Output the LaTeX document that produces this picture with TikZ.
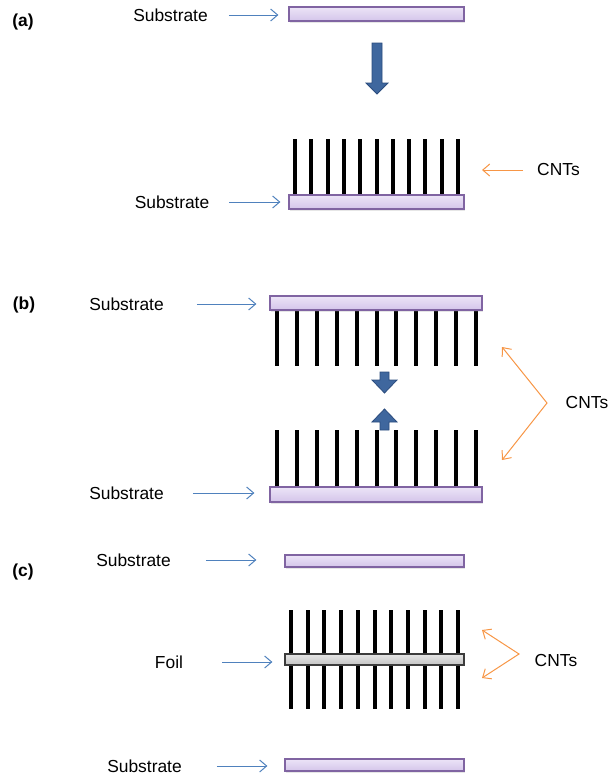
\documentclass[tikz,border=0pt]{standalone}
\usepackage{fontspec}
\setmainfont{Liberation Sans}
\usetikzlibrary{arrows.meta,shadows}

\definecolor{subedge}{HTML}{8064A2}
\definecolor{subtop}{HTML}{ECE4F7}
\definecolor{subbot}{HTML}{D4C5EA}
\definecolor{foiledge}{HTML}{3C3C3C}
\definecolor{foiltop}{HTML}{E6E6E6}
\definecolor{foilbot}{HTML}{C4C4C4}
\definecolor{pointblue}{HTML}{4F81BD}
\definecolor{pointorange}{HTML}{F79646}
\definecolor{blockblue}{HTML}{3F679E}
\definecolor{blockedge}{HTML}{2B4C7E}

\tikzset{
  substrate/.style={draw=subedge, line width=1.2pt, top color=subtop, bottom color=subbot,
    inner sep=0pt, drop shadow={shadow xshift=0.6pt, shadow yshift=-1.8pt, opacity=0.2}},
  foilbar/.style={draw=foiledge, line width=1.2pt, top color=foiltop, bottom color=foilbot, inner sep=0pt},
  tube/.style={line width=4pt, black},
  caption/.style={font=\fontsize{17.4}{20}\selectfont, inner sep=0pt},
  panel/.style={font=\fontsize{17.4}{20}\selectfont\bfseries, inner sep=0pt},
  bluepointer/.style={draw=pointblue, line width=1pt, -{Straight Barb[length=7pt,width=12pt]}},
  orangepointer/.style={draw=pointorange, line width=1pt},
  barb/.tip={Straight Barb[length=7pt,width=12pt]},
  blockarrow/.style={fill=blockblue, draw=blockedge, line width=0.8pt, line join=miter},
}

\begin{document}
\begin{tikzpicture}[x=1pt, y=-1pt]
\useasboundingbox (0,0) rectangle (610,780);

% panel letters
\node[panel] (pa) at (23,22) {(a)};
\node[panel] (pb) at (24,305) {(b)};
\node[panel] (pc) at (23,572) {(c)};

% ---------- (a) growth on a substrate ----------
\node[substrate, minimum width=175pt, minimum height=14pt] (sa1) at (376.5,14) {};
\node[caption] (la1) at (170.5,15) {Substrate};
\draw[bluepointer, shorten <=21pt, shorten >=10pt] (la1.east) -- (la1.east -| sa1.west);

\draw[blockarrow] (372,43) -- (382,43) -- (382,83) -- (388,83) -- (377,94)
  -- (366,83) -- (372,83) -- cycle;

\foreach \i in {0,...,10}
  \draw[tube] ({295+16.3*\i},139) -- ({295+16.3*\i},200);
\node[substrate, minimum width=175pt, minimum height=14pt] (sa2) at (376.5,202) {};
\node[caption] (la2) at (172,202) {Substrate};
\draw[bluepointer, shorten <=20pt, shorten >=8pt] (la2.east) -- (la2.east -| sa2.west);

\node[caption] (lna) at (558.5,170) {CNTs};
\coordinate (ta) at (482,170);
\draw[orangepointer, -barb, shorten <=14pt] (lna.west) -- (ta);

% ---------- (b) two arrays pressed together ----------
\foreach \i in {0,...,10}
  \draw[tube] ({277+19.9*\i},305) -- ({277+19.9*\i},366);
\node[substrate, minimum width=212pt, minimum height=14pt] (sb1) at (376,303) {};
\node[caption] (lb1) at (126.5,304) {Substrate};
\draw[bluepointer, shorten <=33pt, shorten >=13pt] (lb1.east) -- (lb1.east -| sb1.west);

\draw[blockarrow] (380,372) -- (389,372) -- (389,380) -- (397,380) -- (384.5,393)
  -- (372,380) -- (380,380) -- cycle;
\draw[blockarrow] (380,430) -- (389,430) -- (389,422) -- (397,422) -- (384.5,409)
  -- (372,422) -- (380,422) -- cycle;

\foreach \i in {0,...,10}
  \draw[tube] ({277+19.9*\i},430) -- ({277+19.9*\i},492);
\node[substrate, minimum width=212pt, minimum height=15pt] (sb2) at (376,494.5) {};
\node[caption] (lb2) at (126.5,493) {Substrate};
\draw[bluepointer, shorten <=29pt, shorten >=15pt] (lb2.east) -- (lb2.east -| sb2.west);

\node[caption] (lnb) at (587,403) {CNTs};
\coordinate (vb) at (547,403);
\coordinate (tb1) at (502,347);
\coordinate (tb2) at (502,460);
\draw[orangepointer, barb-barb] (tb1) -- (vb) -- (tb2);

% ---------- (c) double-sided array on a foil ----------
\node[substrate, minimum width=179pt, minimum height=12pt] (sc1) at (374.5,561) {};
\node[caption] (lc1) at (133.5,560) {Substrate};
\draw[bluepointer, shorten <=35pt, shorten >=28pt] (lc1.east) -- (lc1.east -| sc1.west);

\foreach \i in {0,...,10}
  \draw[tube] ({291+16.7*\i},610) -- ({291+16.7*\i},709);
\node[foilbar, minimum width=179pt, minimum height=11pt] (foil) at (374.5,659.5) {};
\node[caption] (lf) at (169,662) {Foil};
\draw[bluepointer, shorten <=39pt, shorten >=12pt] (lf.east) -- (lf.east -| foil.west);

\node[caption] (lnc) at (556,661) {CNTs};
\coordinate (vc) at (519,654);
\coordinate (tc1) at (482,630);
\coordinate (tc2) at (482,678);
\draw[orangepointer, barb-barb] (tc1) -- (vc) -- (tc2);

\node[substrate, minimum width=179pt, minimum height=12pt] (sc2) at (374.5,765) {};
\node[caption] (lc2) at (144.5,766) {Substrate};
\draw[bluepointer, shorten <=35pt, shorten >=17pt] (lc2.east) -- (lc2.east -| sc2.west);
\end{tikzpicture}
\end{document}
